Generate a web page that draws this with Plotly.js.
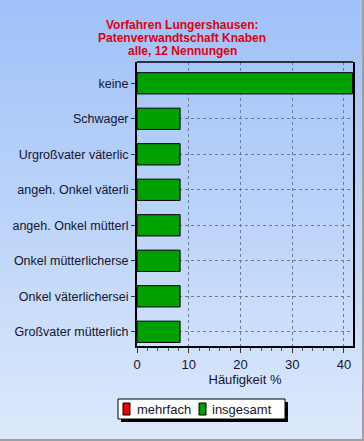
<!DOCTYPE html>
<html><head><meta charset="utf-8">
<script src="https://cdn.plot.ly/plotly-3.0.1.min.js"></script>
<style>
html,body{margin:0;padding:0;}
#wrap{width:362px;height:439px;border-right:2px solid #a0a0a0;border-bottom:2px solid #a0a0a0;background:linear-gradient(to bottom,#9fc1f8 0%,#bcd4f9 50%,#dde9fb 100%);}
#chart{width:362px;height:439px;}
</style></head>
<body><div id="wrap"><div id="chart"></div></div>
<script>
const categories = ["keine","Schwager","Urgroßvater väterlic","angeh. Onkel väterli","angeh. Onkel mütterl","Onkel mütterlicherse","Onkel väterlichersei","Großvater mütterlich"];
const mehrfach = [0,0,0,0,0,0,0,0];
const insgesamt = [41.67,8.33,8.33,8.33,8.33,8.33,8.33,8.33];
const seriesNames = ["mehrfach","insgesamt"];
const seriesColors = ["#ee0000","#00a000"];
const titleLines = ["Vorfahren Lungershausen:","Patenverwandtschaft Knaben","alle, 12 Nennungen"];
const xTitle = "Häufigkeit %";

const W=362,H=439,L=137,R=9,T=62,B=93;
const pw=W-L-R, ph=H-T-B;
const px=x=>(x-L)/pw, py=y=>(H-B-y)/ph;
const font="Liberation Sans, Arial, sans-serif";
const txt="#141430";

const traces=[mehrfach,insgesamt].map((vals,i)=>({type:'bar',orientation:'h',name:seriesNames[i],y:categories,x:vals,width:0.6,
  marker:{color:seriesColors[i],line:{color:'#000',width:1}},hoverinfo:'skip'}));

const ann=titleLines.map((t,i)=>({text:'<b>'+t+'</b>',xref:'paper',yref:'paper',x:px(182),y:py(24.5+13*i),
  xanchor:'center',yanchor:'middle',showarrow:false,font:{family:font,size:12,color:'#e00010'}}));
// custom legend
const legX=[123,199], legTextX=[135,210];
seriesNames.forEach((n,i)=>ann.push({text:n,xref:'paper',yref:'paper',x:px(legTextX[i]),y:py(409),xanchor:'left',yanchor:'middle',
  showarrow:false,font:{family:font,size:13,color:txt}}));
const shapes=[
 {type:'line',xref:'paper',yref:'paper',x0:0,x1:1,y0:1,y1:1,line:{width:1.5,color:'#000'},layer:'above'},
 {type:'rect',xref:'paper',yref:'paper',x0:px(121),x1:px(288),y0:py(402),y1:py(422),fillcolor:'#000',line:{width:0},layer:'above'},
 {type:'rect',xref:'paper',yref:'paper',x0:px(118),x1:px(285),y0:py(399),y1:py(419),fillcolor:'#fff',line:{width:1,color:'#000'},layer:'above'}
];
seriesColors.forEach((c,i)=>shapes.push({type:'rect',xref:'paper',yref:'paper',x0:px(legX[i]),x1:px(legX[i]+7),y0:py(403),y1:py(415),
  fillcolor:c,line:{width:1,color:'#000'},layer:'above'}));

const layout={
 width:W,height:H,margin:{l:L,r:R,t:T,b:B,pad:0},
 paper_bgcolor:'rgba(0,0,0,0)',plot_bgcolor:'rgba(0,0,0,0)',
 barmode:'overlay',showlegend:false,
 xaxis:{range:[0,41.75],dtick:10,tick0:0,showgrid:true,gridcolor:'#6a7a9a',griddash:'3px,3px',gridwidth:1,
   zeroline:false,showline:true,linecolor:'#000',linewidth:2,mirror:false,ticks:'outside',ticklen:5,tickcolor:'#333',
   minor:{dtick:2,ticks:'outside',ticklen:3,tickcolor:'#555',showgrid:false},
   tickfont:{family:font,size:13,color:txt},
   title:{text:xTitle,font:{family:font,size:13,color:txt},standoff:4}},
 yaxis:{type:'category',range:[7.4,-0.6],showgrid:true,gridcolor:'#6a7a9a',griddash:'3px,3px',gridwidth:1,
   showline:true,linecolor:'#000',linewidth:2,mirror:true,ticks:'outside',ticklen:4,tickcolor:'#333',
   tickfont:{family:font,size:12.5,color:txt}},
 annotations:ann,shapes:shapes
};
Plotly.newPlot('chart',traces,layout,{displayModeBar:false,staticPlot:true});
</script></body></html>
